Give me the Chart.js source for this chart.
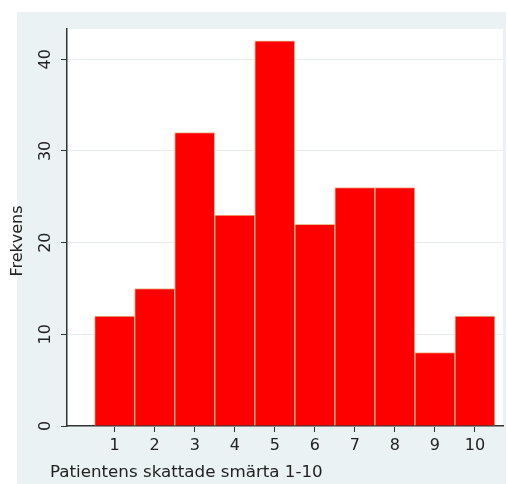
<!DOCTYPE html>
<html>
<head>
<meta charset="utf-8">
<script src="https://cdn.jsdelivr.net/npm/chart.js@4/dist/chart.umd.min.js"></script>
<style>
  html, body { margin: 0; padding: 0; background: #fff; }
  #wrap { width: 508px; height: 484px; }
</style>
</head>
<body>
<div id="wrap"><canvas id="chart" width="508" height="484"></canvas></div>
<script>
// pain score categories and their frequencies
var scores = [1, 2, 3, 4, 5, 6, 7, 8, 9, 10];
var counts = [12, 15, 32, 23, 42, 22, 26, 26, 8, 12];
var xTicks = [1, 2, 3, 4, 5, 6, 7, 8, 9, 10];
var yTicks = [0, 10, 20, 30, 40];
var xTitle = "Patientens skattade smärta 1-10";
var yTitle = "Frekvens";

var FONT = "'DejaVu Sans', sans-serif";

// stata style background: light panel, white plot region, and the axis titles
var stataLook = {
  id: "stataLook",
  beforeDraw: function (c) {
    var ctx = c.ctx, a = c.chartArea;
    ctx.save();
    ctx.fillStyle = "#ffffff";
    ctx.fillRect(0, 0, c.width, c.height);
    ctx.fillStyle = "#eaf2f3";
    ctx.fillRect(17, 12, 489, c.height - 12);
    ctx.fillStyle = "#ffffff";
    ctx.fillRect(a.left, a.top, a.right - a.left, a.bottom - a.top);
    ctx.restore();
  },
  afterDraw: function (c) {
    var ctx = c.ctx;
    ctx.save();
    ctx.fillStyle = "#222";
    ctx.font = "16.7px " + FONT;
    ctx.textBaseline = "alphabetic";
    ctx.textAlign = "left";
    ctx.fillText(xTitle, 50, 477);
    ctx.font = "16px " + FONT;
    ctx.translate(18, 241);
    ctx.rotate(-Math.PI / 2);
    ctx.textAlign = "center";
    ctx.textBaseline = "middle";
    ctx.fillText(yTitle, 0, 0);
    ctx.restore();
  }
};

var chart = document.getElementById("chart").getContext("2d");
var myChart = new Chart(chart, {
  type: "bar",
  data: {
    datasets: [
      {
        label: yTitle,
        data: scores.map(function (s, i) { return { x: s, y: counts[i] }; }),
        backgroundColor: "#ff0000",
        borderColor: "#e6bc90",
        borderWidth: 1,
        barPercentage: 1,
        categoryPercentage: 1,
      },
    ],
  },
  plugins: [stataLook],
  options: {
    responsive: false,
    animation: false,
    layout: { padding: { top: 29, right: 5, left: 0, bottom: 0 } },
    plugins: {
      legend: { display: false },
      tooltip: { enabled: false },
    },
    scales: {
      x: {
        type: "linear",
        min: -0.19,
        max: 10.7,
        offset: false,
        afterBuildTicks: function (s) { s.ticks = xTicks.map(function (v) { return { value: v }; }); },
        afterFit: function (s) { s.height = 58; },
        grid: { offset: false, drawOnChartArea: false, tickLength: 6, tickColor: "#333", tickWidth: 1 },
        border: { display: true, color: "#333", width: 1.5 },
        ticks: { font: { family: FONT, size: 16 }, color: "#222", padding: 4, maxRotation: 0 },
      },
      y: {
        min: 0,
        max: 43.3,
        afterBuildTicks: function (s) { s.ticks = yTicks.map(function (v) { return { value: v }; }); },
        afterFit: function (s) { s.width = 67; },
        grid: { color: "#e6eef0", tickLength: 6, tickColor: "#333", tickWidth: 1 },
        border: { display: true, color: "#333", width: 1.5 },
        ticks: {
          font: { family: FONT, size: 16 },
          color: "#222",
          padding: 5,
          minRotation: 90,
          maxRotation: 90,
          crossAlign: "center",
        },
      },
    },
  },
});
</script>
</body>
</html>
